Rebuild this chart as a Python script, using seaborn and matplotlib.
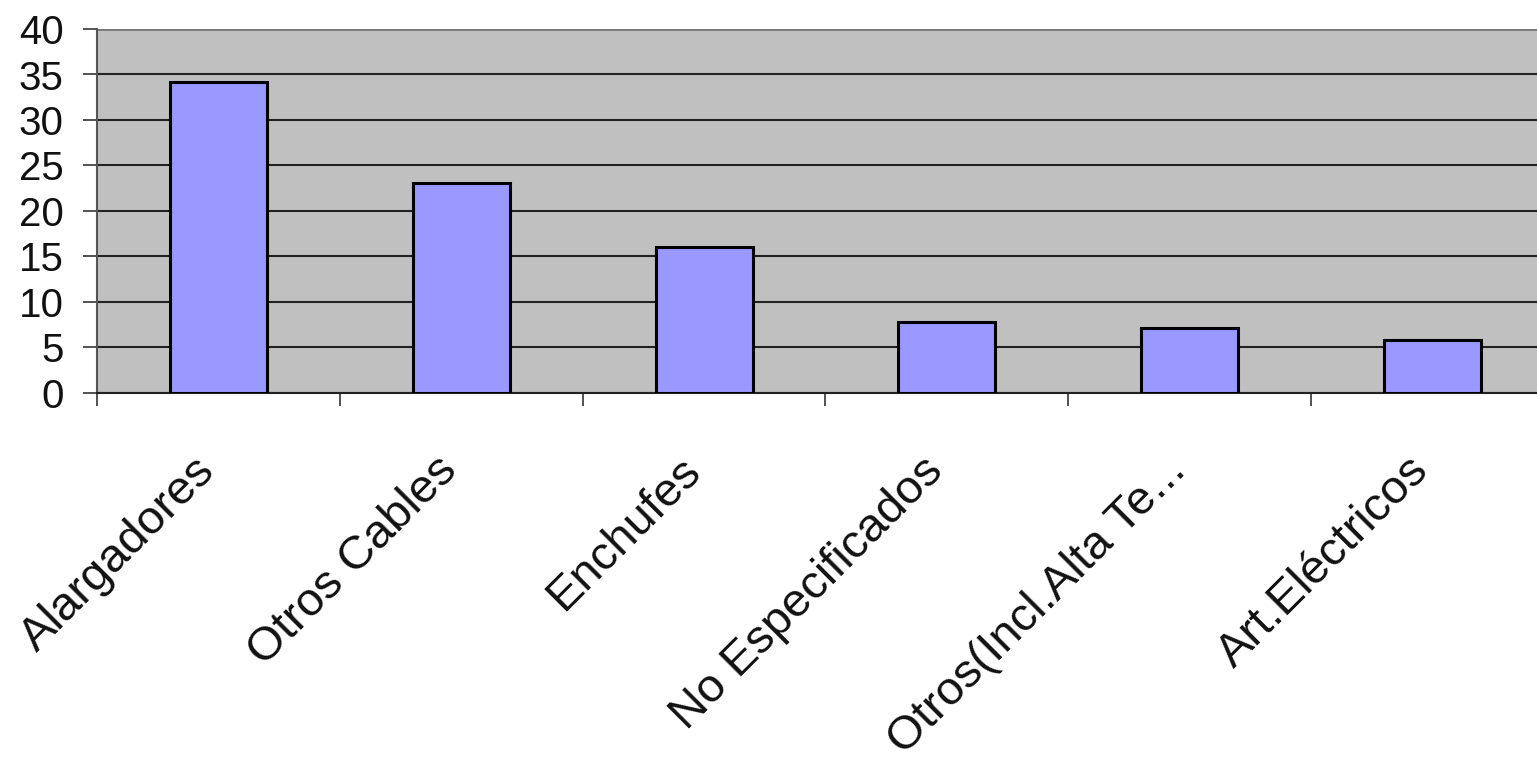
import matplotlib
matplotlib.use("Agg")
import matplotlib.pyplot as plt
import matplotlib.transforms as mtransforms
import seaborn as sns
import pandas as pd

categories = ["Alargadores", "Otros Cables", "Enchufes", "No Especificados",
              "Otros(Incl.Alta Te...", "Art.Eléctricos"]
values = [34.2, 23.1, 16.0, 7.8, 7.1, 5.8]
yticks = [0, 5, 10, 15, 20, 25, 30, 35, 40]

sns.set_theme(style="white")
plt.rcParams['font.family'] = ['Liberation Sans', 'DejaVu Sans']

df = pd.DataFrame({"cat": categories, "val": values})

fig = plt.figure(figsize=(15.37, 7.66), dpi=100)
ax = fig.add_axes([97/1537, 1 - 393/766, (1537 - 97)/1537, (393 - 29)/766])
ax.set_facecolor("#C0C0C0")

sns.barplot(data=df, x="cat", y="val", color="#9999FF", saturation=1,
            width=0.4, edgecolor="#000000", linewidth=2.2, ax=ax, zorder=3)

ax.set_ylim(0, 40)
ax.set_xlim(-0.5, 5.43)
ax.set_yticks(yticks)
ax.set_yticklabels([str(t) for t in yticks], fontsize=29, color="#111111")
ax.yaxis.grid(True, color="#222222", linewidth=1.5, zorder=1)
ax.set_axisbelow(True)
ax.set_xlabel("")
ax.set_ylabel("")

# category boundary ticks
ax.set_xticks([i + 0.5 for i in range(-1, 5)], minor=False)
ax.set_xticklabels([])
ax.tick_params(axis="x", which="major", direction="out", length=9, width=1.2,
               color="#333333", bottom=True)
ax.tick_params(axis="y", direction="out", length=10, width=1.2, color="#333333",
               left=True, pad=14)
ax.set_xticks(range(len(categories)), minor=True)
ax.set_xticklabels(categories, minor=True, rotation=45, ha="right",
                   rotation_mode="anchor", fontsize=34, color="#111111")
ax.tick_params(axis="x", which="minor", length=0, pad=40)
offset = mtransforms.ScaledTranslation(-0.26, 0, fig.dpi_scale_trans)
for lbl in ax.get_xticklabels(minor=True):
    lbl.set_transform(lbl.get_transform() + offset)

for s in ["top", "right"]:
    ax.spines[s].set_visible(False)
ax.spines["left"].set_color("#555555")
ax.spines["left"].set_linewidth(1.5)
ax.spines["bottom"].set_color("#222222")
ax.spines["bottom"].set_linewidth(1.5)
ax.axhline(40, color="#777777", linewidth=2, zorder=2)

fig.savefig("out.png", dpi=100, facecolor="white")
